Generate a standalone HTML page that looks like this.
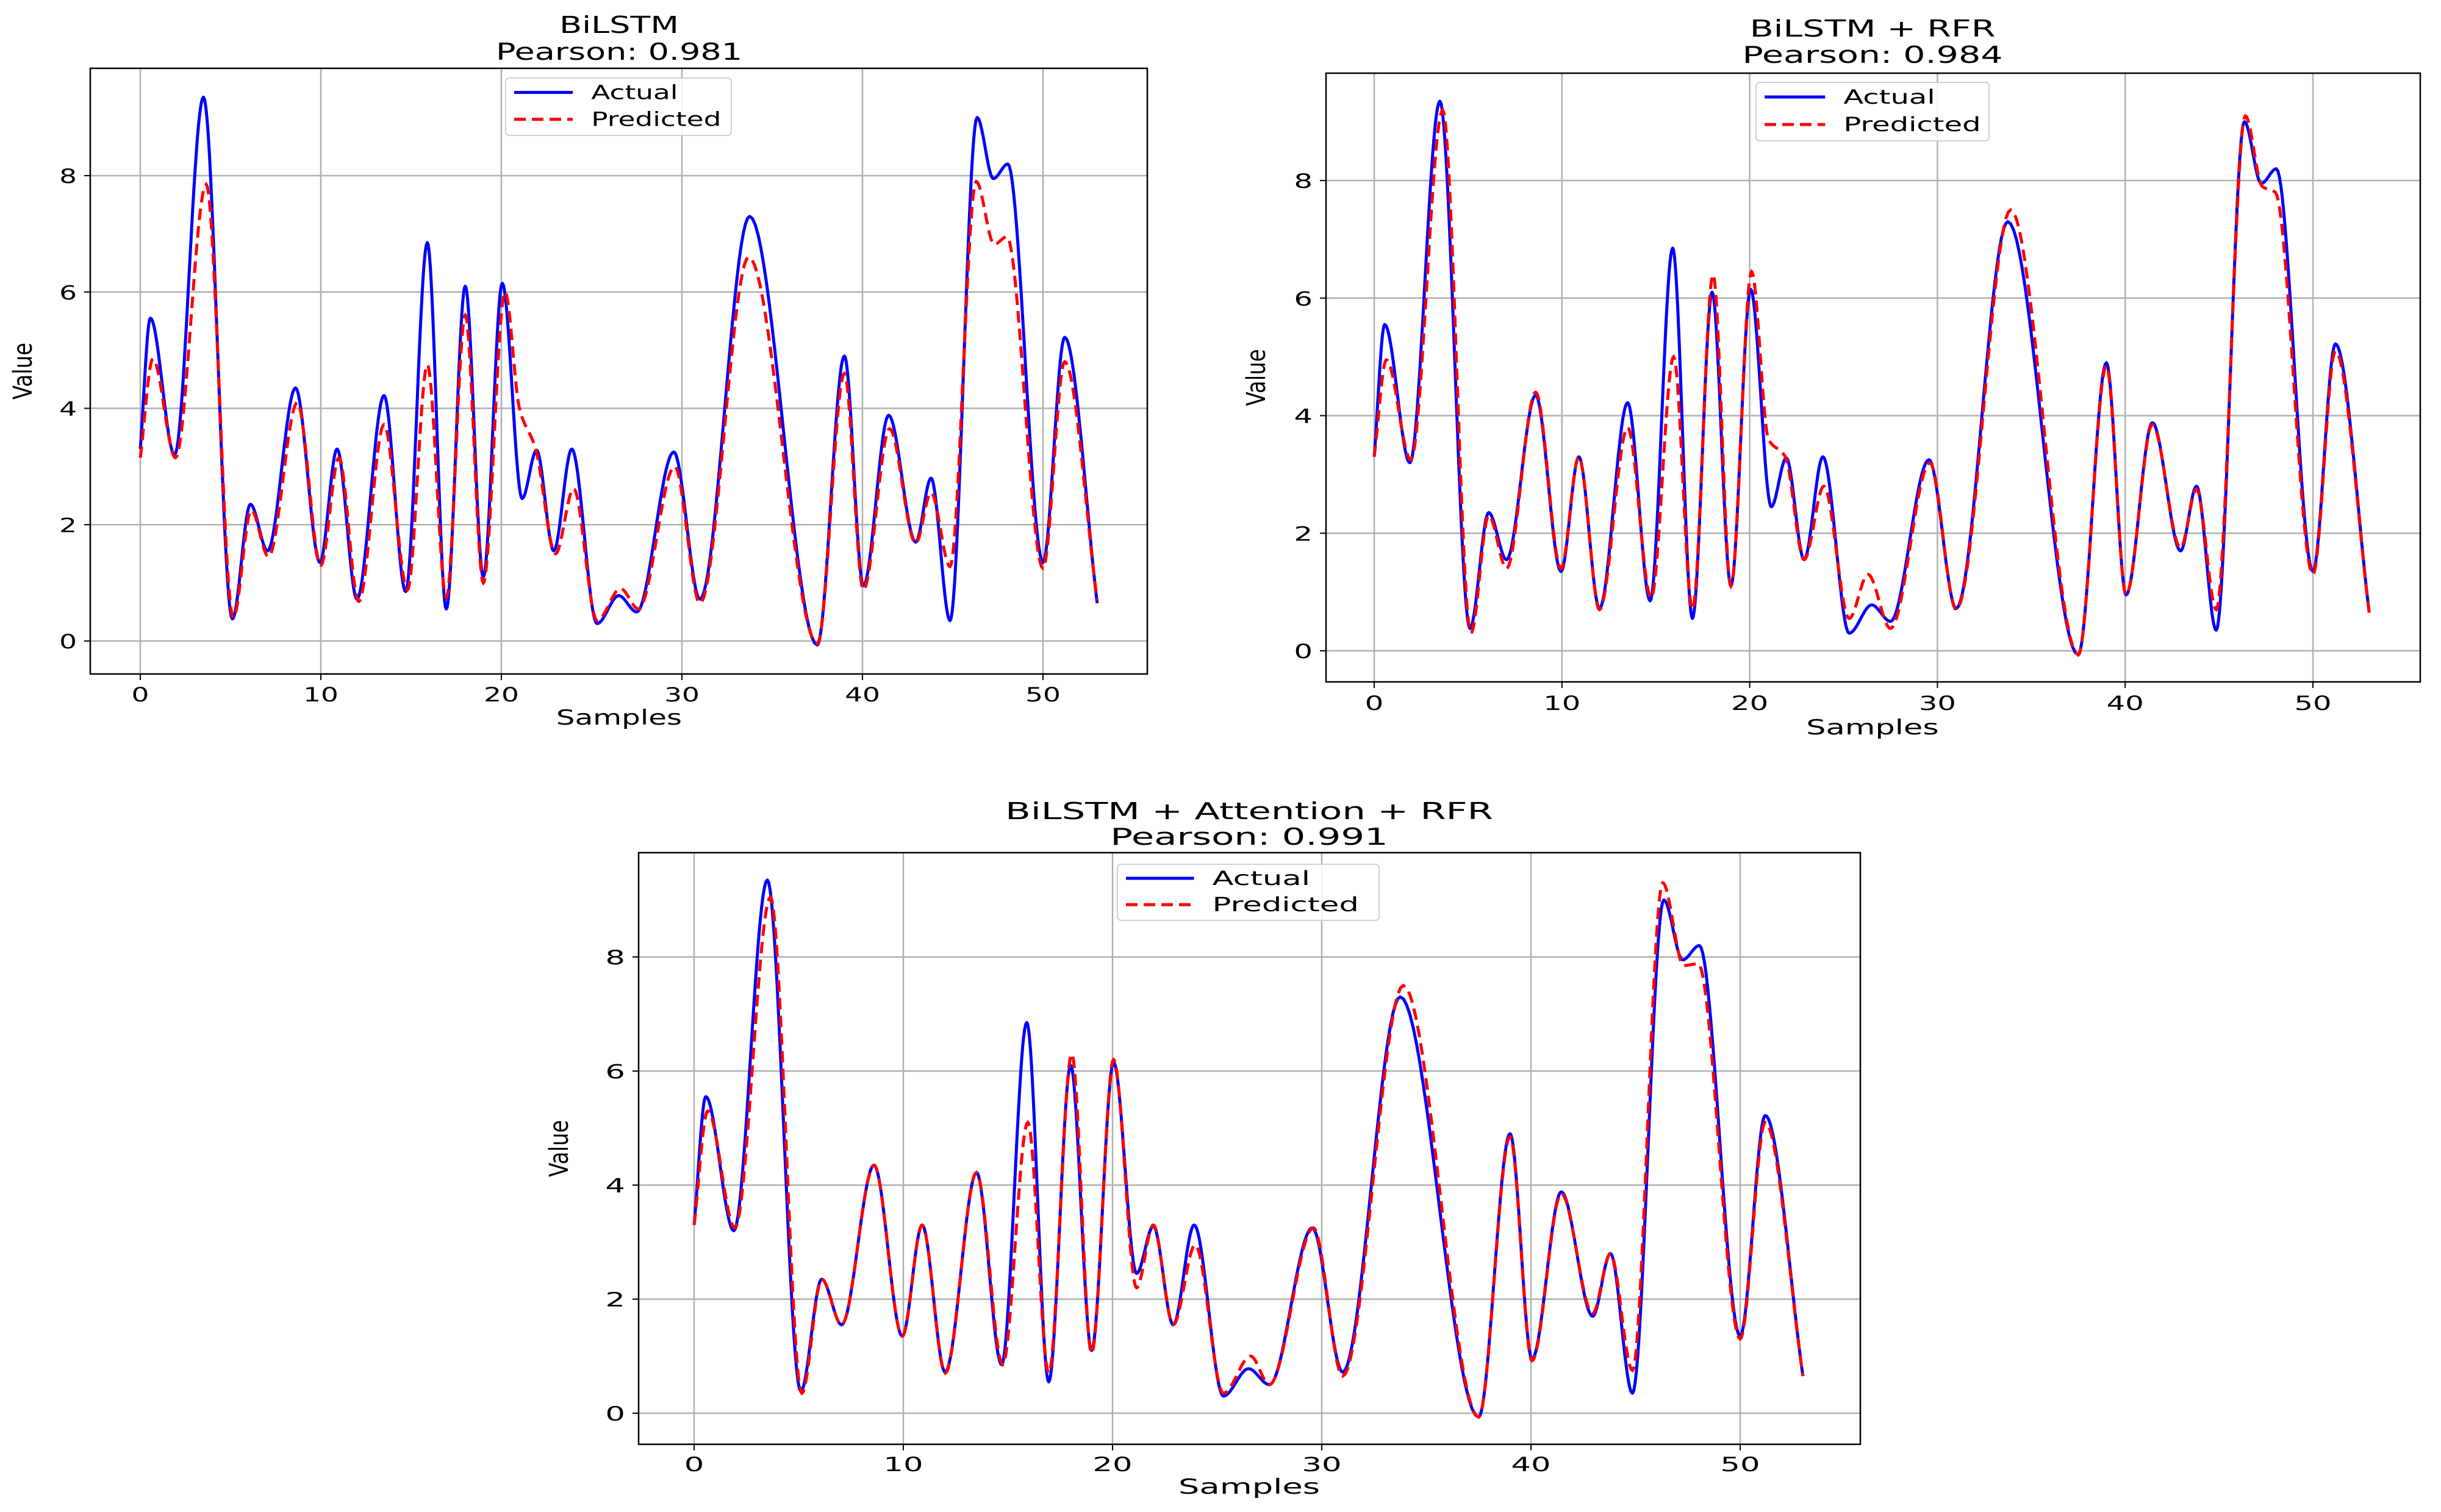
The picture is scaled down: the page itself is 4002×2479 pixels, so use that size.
<!DOCTYPE html>
<html><head><meta charset="utf-8"><style>
html,body{margin:0;padding:0;background:#fff;}
svg{display:block;font-family:"DejaVu Sans","Liberation Sans",sans-serif;}
</style></head><body>
<svg id="fig" width="4002" height="2479" viewBox="0 0 4002 2479" xmlns="http://www.w3.org/2000/svg"></svg>
<script>
// ---- data ----
const xTicks = [0, 10, 20, 30, 40, 50];
const yTicks = [0, 2, 4, 6, 8];
const titles = ["BiLSTM", "BiLSTM + RFR", "BiLSTM + Attention + RFR"];
const pearson = ["Pearson: 0.981", "Pearson: 0.984", "Pearson: 0.991"];
const actualX = [0,0.56,1.9,3.5,5.1,6.1,7.05,8.6,9.95,10.9,12.0,13.5,14.7,15.9,16.95,18.0,19.0,20.05,21.15,21.95,22.9,23.9,25.3,26.5,27.5,29.55,31.0,33.75,37.5,39.0,40.05,41.45,42.95,43.8,44.85,46.35,47.25,48.05,50.0,51.2,53.0];
const actualY = [3.3,5.55,3.2,9.35,0.38,2.35,1.55,4.35,1.35,3.3,0.72,4.22,0.85,6.85,0.55,6.1,1.1,6.15,2.45,3.28,1.55,3.3,0.3,0.78,0.5,3.25,0.72,7.3,-0.07,4.9,0.95,3.88,1.7,2.8,0.35,9.0,7.95,8.2,1.35,5.22,0.65];
const pred1X = [0,0.7,1.95,3.65,5.15,6.15,7.1,8.7,10.0,11.0,12.1,13.5,14.8,15.9,16.95,18.0,19.0,20.2,21.0,21.9,23.0,24.0,25.3,26.6,27.6,29.6,31.0,33.7,37.5,39.0,40.05,41.5,42.95,43.8,44.85,46.3,47.3,48.0,50.0,51.2,53.0];
const pred1Y = [3.15,4.85,3.15,7.85,0.4,2.25,1.45,4.1,1.3,3.15,0.68,3.72,0.88,4.75,0.75,5.6,1.0,6.0,4.0,3.3,1.5,2.62,0.35,0.9,0.55,3.0,0.65,6.6,-0.05,4.6,0.88,3.65,1.68,2.55,1.28,7.9,6.82,6.95,1.25,4.8,0.7];
const pred2X = [0,0.65,1.95,3.65,5.15,6.1,7.05,8.6,9.95,10.9,12.0,13.5,14.75,15.95,16.95,18.05,19.0,20.1,21.0,21.9,22.9,23.95,25.3,26.3,27.5,29.6,31.0,33.9,37.5,39.0,40.05,41.45,42.95,43.8,44.85,46.4,47.3,48.0,50.0,51.2,53.0];
const pred2Y = [3.3,4.95,3.25,9.2,0.3,2.3,1.4,4.4,1.4,3.3,0.7,3.8,0.9,5.0,0.7,6.4,1.1,6.45,3.6,3.3,1.55,2.8,0.55,1.3,0.38,3.2,0.7,7.5,-0.07,4.85,0.95,3.85,1.75,2.75,0.7,9.1,7.9,7.8,1.3,5.1,0.65];
const pred3X = [0,0.65,1.95,3.65,5.15,6.1,7.05,8.6,9.95,10.9,12.0,13.5,14.75,15.95,16.95,18.05,19.0,20.05,21.15,21.95,22.9,23.95,25.3,26.6,27.5,29.6,31.0,33.9,37.5,39.0,40.05,41.45,42.95,43.8,44.85,46.3,47.3,48.0,50.0,51.2,53.0];
const pred3Y = [3.3,5.3,3.25,9.05,0.35,2.35,1.55,4.35,1.35,3.3,0.7,4.22,0.85,5.1,0.7,6.3,1.05,6.2,2.2,3.3,1.55,2.95,0.35,1.0,0.5,3.25,0.65,7.5,-0.07,4.85,0.92,3.85,1.75,2.8,0.75,9.3,7.85,7.88,1.3,5.1,0.65];

const panels = [
  {left:148,right:1881,top:112,bottom:1105,x0:230,x50:1710,y0:1051,y8:288,sx:1.42,
   t1:40,t2:84,cx:1015,samplesY:1176,valueX:40,tickY:1138,leg:{x:829,y:128,w:370,h:94},px:pred1X,py:pred1Y},
  {left:2174,right:3968,top:120,bottom:1118,x0:2253,x50:3792,y0:1067,y8:296,sx:1.5,
   t1:46,t2:89,cx:3070,samplesY:1192,valueX:2062,tickY:1152,leg:{x:2879,y:135,w:382,h:96},px:pred2X,py:pred2Y},
  {left:1047,right:3050,top:1398,bottom:2368,x0:1138,x50:2853,y0:2317,y8:1569,sx:1.6,
   t1:1329,t2:1371,cx:2048,samplesY:2437,valueX:919,tickY:2400,leg:{x:1832,y:1417,w:429,h:92},px:pred3X,py:pred3Y}
];

const NS = "http://www.w3.org/2000/svg";
const fig = document.getElementById('fig');
function mk(tag, attrs, parent){ const e=document.createElementNS(NS,tag); for(const k in attrs) e.setAttribute(k,attrs[k]); (parent||fig).appendChild(e); return e; }
function txt(parent, x, y, s, size, anchor, sx, name){
  const t = mk('text',{transform:`translate(${x},${y}) scale(${sx},1)`,'font-size':size,'text-anchor':anchor,fill:'#000'},parent);
  
  
  t.textContent = s; return t;
}
function monotone(xs, ys){
  const n=xs.length, d=[], m=new Array(n);
  for(let i=0;i<n-1;i++) d.push((ys[i+1]-ys[i])/(xs[i+1]-xs[i]));
  m[0]=d[0]; m[n-1]=d[n-2];
  for(let i=1;i<n-1;i++){ if(d[i-1]*d[i]<=0) m[i]=0; else { const w1=2*(xs[i+1]-xs[i])+(xs[i]-xs[i-1]); const w2=(xs[i+1]-xs[i])+2*(xs[i]-xs[i-1]); m[i]=(w1+w2)/(w1/d[i-1]+w2/d[i]); } }
  const pts=[];
  for(let i=0;i<n-1;i++){ const h=xs[i+1]-xs[i]; const steps=24;
    for(let k=0;k<steps;k++){ const t=k/steps, t2=t*t, t3=t2*t;
      const y=(2*t3-3*t2+1)*ys[i]+(t3-2*t2+t)*h*m[i]+(-2*t3+3*t2)*ys[i+1]+(t3-t2)*h*m[i+1];
      pts.push([xs[i]+t*h,y]); } }
  pts.push([xs[n-1],ys[n-1]]); return pts;
}

panels.forEach((p, idx)=>{
  const g = mk('g',{});
  
  
  const X = v => p.x0 + (p.x50-p.x0)*v/50;
  const Y = v => p.y0 + (p.y8-p.y0)*v/8;
  xTicks.forEach(v=>{
    const l=mk('line',{x1:X(v),x2:X(v),y1:p.top,y2:p.bottom,stroke:'#b0b0b0','stroke-width':2.5},g);
    
    
    const tk=mk('line',{x1:X(v),x2:X(v),y1:p.bottom,y2:p.bottom+10,stroke:'#000','stroke-width':2},g);
    
    
    txt(g, X(v), p.tickY+12, String(v), 32, 'middle', p.sx, 'x-tick-label');
  });
  yTicks.forEach(v=>{
    const l=mk('line',{x1:p.left,x2:p.right,y1:Y(v),y2:Y(v),stroke:'#b0b0b0','stroke-width':2.5},g);
    
    
    const tk=mk('line',{x1:p.left-10,x2:p.left,y1:Y(v),y2:Y(v),stroke:'#000','stroke-width':2},g);
    
    
    txt(g, p.left-22, Y(v)+12, String(v), 32, 'end', p.sx, 'y-tick-label');
  });
  const cp = mk('clipPath',{id:'clip'+idx},g);
  mk('rect',{x:p.left,y:p.top,width:p.right-p.left,height:p.bottom-p.top},cp);
  const toPath = pts => pts.map((q,i)=>(i?'L':'M')+X(q[0]).toFixed(1)+','+Y(q[1]).toFixed(1)).join('');
  const a = mk('path',{d:toPath(monotone(actualX,actualY)),fill:'none',stroke:'#0000ff','stroke-width':5,'clip-path':`url(#clip${idx})`,'stroke-linejoin':'round'},g);
  
  
  const pr = mk('path',{d:toPath(monotone(p.px,p.py)),fill:'none',stroke:'#ff0000','stroke-width':5,'stroke-dasharray':'19,10','clip-path':`url(#clip${idx})`},g);
  
  
  const fr = mk('rect',{x:p.left,y:p.top,width:p.right-p.left,height:p.bottom-p.top,fill:'none',stroke:'#000','stroke-width':2.5},g);
  
  
  txt(g, p.cx, p.t1+14, titles[idx], 38, 'middle', p.sx, 'chart-title');
  txt(g, p.cx, p.t2+14, pearson[idx], 38, 'middle', p.sx, 'pearson-subtitle');
  txt(g, p.cx, p.samplesY+12, 'Samples', 34, 'middle', p.sx, 'x-axis-title');
  const vl = mk('text',{transform:`translate(${p.valueX+12},${(p.top+p.bottom)/2}) rotate(-90) scale(1,1.25)`,'font-size':34,'text-anchor':'middle'},g);
  
  
  vl.textContent='Value';
  const L = p.leg;
  const lg = mk('g',{},g);
  
  
  mk('rect',{x:L.x,y:L.y,width:L.w,height:L.h,rx:6,fill:'#fff','fill-opacity':0.85,stroke:'#d0d0d0','stroke-width':2},lg);
  const r1=L.y+L.h*0.25, r2=L.y+L.h*0.72, lx=L.x+14, lw=L.w*0.26;
  const e1=mk('line',{x1:lx,x2:lx+lw,y1:r1,y2:r1,stroke:'#0000ff','stroke-width':5},lg);
  
  
  const e2=mk('line',{x1:lx,x2:lx+lw,y1:r2,y2:r2,stroke:'#ff0000','stroke-width':5,'stroke-dasharray':'19,10'},lg);
  
  
  txt(lg, lx+lw+30, r1+11, 'Actual', 32, 'start', p.sx, 'legend-actual-label');
  txt(lg, lx+lw+30, r2+11, 'Predicted', 32, 'start', p.sx, 'legend-predicted-label');
});
</script>
</body></html>
